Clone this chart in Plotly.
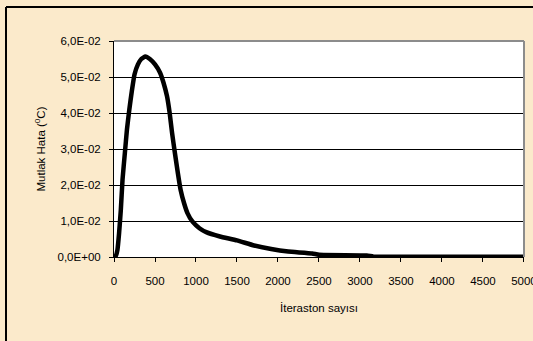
import plotly.graph_objects as go

# Absolute error vs. iteration count
iterations = [0, 21, 42, 62, 83, 104, 133, 158, 187, 217, 250, 292, 333, 383,
              437, 500, 562, 604, 646, 679, 708, 742, 779, 812, 854, 896, 958,
              1042, 1125, 1292, 1500, 1708, 1917, 2125, 2417, 2500, 3083, 3167,
              4000, 5000]
abs_error = [0.0, 0.0003, 0.002, 0.0066, 0.013, 0.0215, 0.029, 0.0354, 0.041,
             0.046, 0.0507, 0.0535, 0.055, 0.0557, 0.055, 0.0535, 0.0512,
             0.0484, 0.0447, 0.040, 0.0345, 0.029, 0.0233, 0.0187, 0.015,
             0.0122, 0.0098, 0.008, 0.0069, 0.0057, 0.0046, 0.0032, 0.0022,
             0.0015, 0.001, 0.0006, 0.0004, 0.0001, 0.0001, 0.0001]

x_ticks = [0, 500, 1000, 1500, 2000, 2500, 3000, 3500, 4000, 4500, 5000]
y_ticks = [0.0, 0.01, 0.02, 0.03, 0.04, 0.05, 0.06]
y_tick_text = ["0,0E+00", "1,0E-02", "2,0E-02", "3,0E-02", "4,0E-02",
               "5,0E-02", "6,0E-02"]

BG = "#FBEACB"
FONT = "Liberation Sans, Arial, sans-serif"
FS = 11.5

fig = go.Figure()
fig.add_trace(go.Scatter(
    x=iterations, y=abs_error, mode="lines",
    line=dict(color="black", width=4.5, shape="spline", smoothing=0.4),
    hoverinfo="skip", showlegend=False,
))

L, R, T, B = 114, 524, 41, 257
W, H = 533, 341

def px_x(p):
    return (p - L) / (R - L)

def px_y(p):
    return (B - p) / (B - T)

fig.update_layout(
    width=W, height=H,
    margin=dict(l=L, r=W - R, t=T, b=H - B),
    paper_bgcolor=BG, plot_bgcolor="white",
    font=dict(family=FONT, size=FS, color="black"),
    xaxis=dict(
        range=[0, 5000.5], tickvals=x_ticks, ticktext=[str(v) for v in x_ticks],
        showgrid=False, zeroline=False, showline=True, linecolor="black",
        linewidth=1, ticks="outside", ticklen=4, tickcolor="black",
        ticklabelstandoff=9, ticklabeloverflow="allow",
        title=dict(text="İteraston sayısı", standoff=18,
                   font=dict(size=FS, family=FONT)),
        fixedrange=True, automargin=False,
    ),
    yaxis=dict(
        range=[0, 0.06], tickvals=y_ticks, ticktext=y_tick_text,
        showgrid=True, gridcolor="black", gridwidth=1, zeroline=False,
        showline=True, linecolor="black", linewidth=1, ticks="outside",
        ticklen=4, tickcolor="black", ticklabelstandoff=6,
        title=dict(text="Mutlak Hata (<sup>0</sup>C)", standoff=9,
                   font=dict(size=FS, family=FONT)),
        fixedrange=True, automargin=False,
    ),
    shapes=[
        # grey frame on top and right of the plotting area
        dict(type="line", xref="paper", yref="paper", x0=0, x1=1, y0=1, y1=1,
             line=dict(color="#8C8C8C", width=2)),
        dict(type="line", xref="paper", yref="paper", x0=1, x1=1, y0=0, y1=1,
             line=dict(color="#8C8C8C", width=2)),
        # outer chart border (top and left)
        dict(type="line", xref="paper", yref="paper",
             x0=px_x(6), x1=px_x(540), y0=px_y(7), y1=px_y(7),
             line=dict(color="black", width=2)),
        dict(type="line", xref="paper", yref="paper",
             x0=px_x(6), x1=px_x(6), y0=px_y(7), y1=px_y(350),
             line=dict(color="black", width=2)),
    ],
)

fig.write_html("out.html", config={"displayModeBar": False, "staticPlot": True})
